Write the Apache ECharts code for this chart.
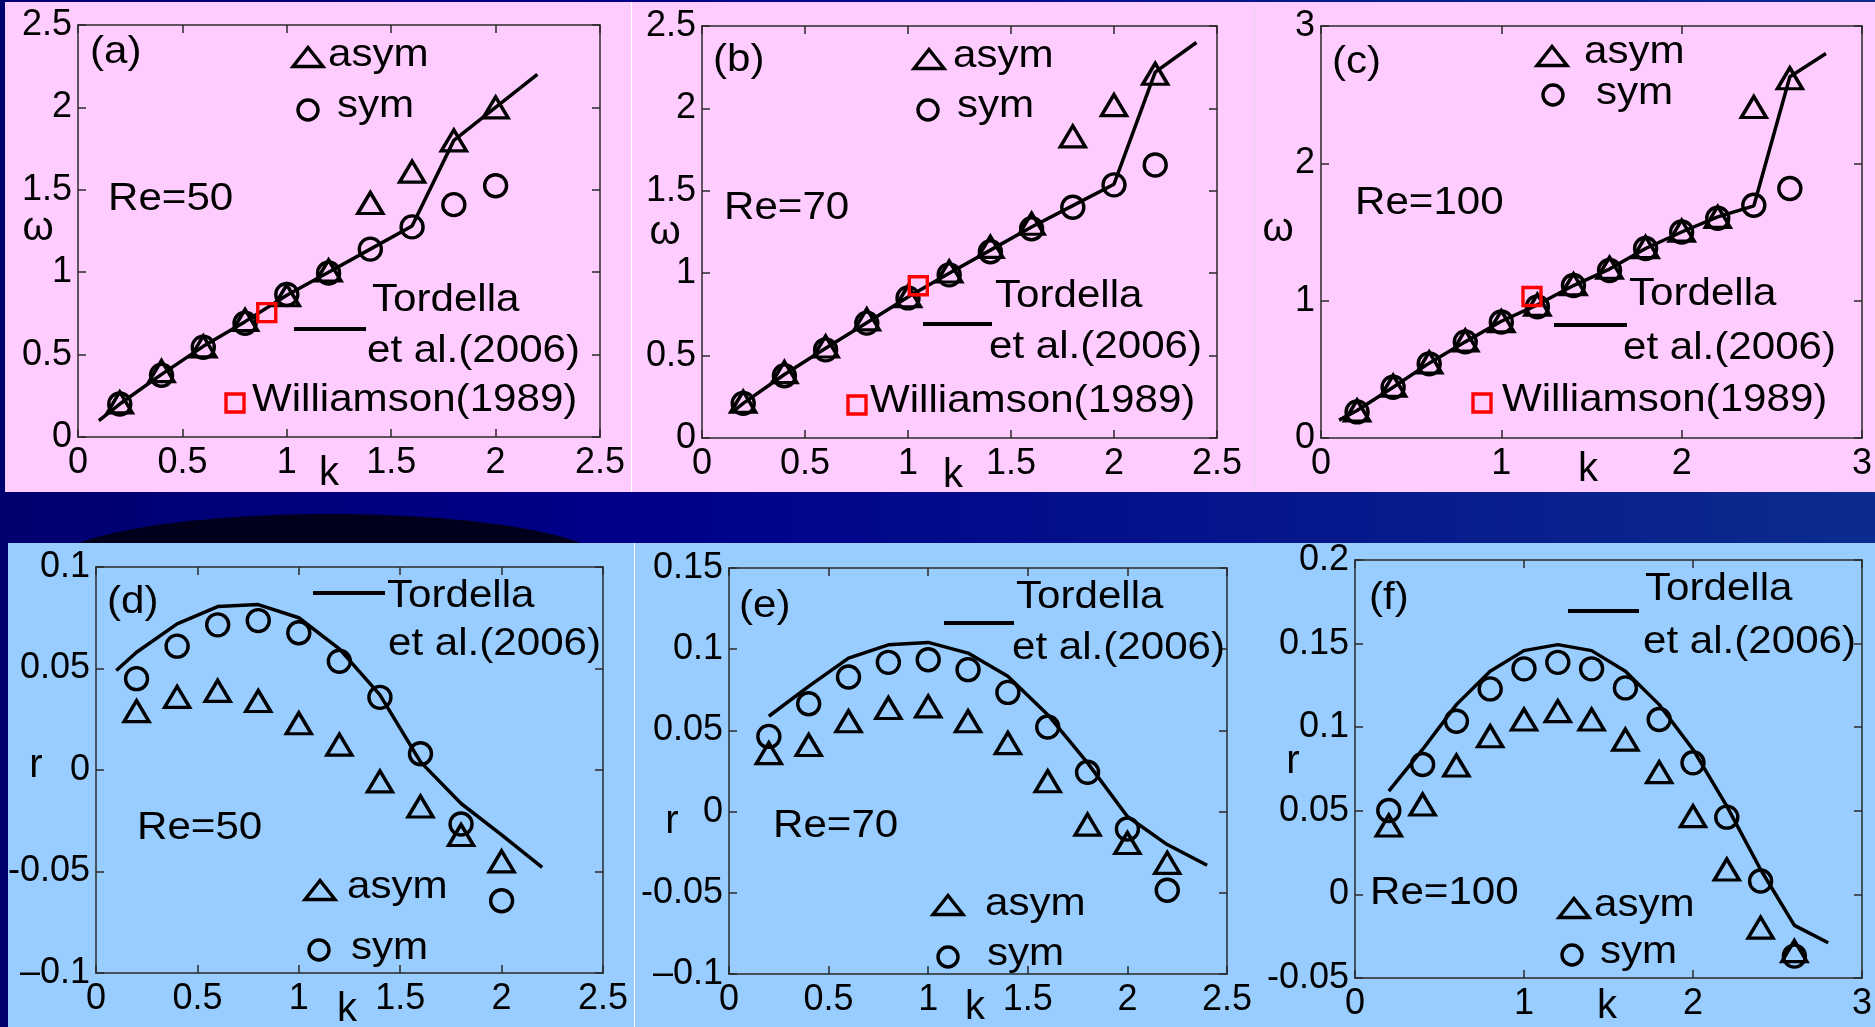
<!DOCTYPE html>
<html>
<head>
<meta charset="utf-8">
<title>omega and r versus k, Re=50, 70, 100</title>
<script src="https://cdn.jsdelivr.net/npm/echarts@6/dist/echarts.min.js"></script>
<style>
  html, body { margin: 0; padding: 0; background: #00007a; }
  #chart { width: 1875px; height: 1027px; }
</style>
</head>
<body>
<div id="chart"></div>
<script>
// (a) Re=50, frequency
const kA = [0.2, 0.4, 0.6, 0.8, 1.0, 1.2, 1.4, 1.6, 1.8, 2.0];
const asymA = [0.21, 0.40, 0.55, 0.71, 0.86, 1.01, 1.42, 1.61, 1.80, 2.00];
const symA = [0.20, 0.375, 0.545, 0.69, 0.865, 0.995, 1.14, 1.275, 1.41, 1.525];
const tordKA = [0.1, 0.2, 0.4, 0.6, 0.8, 1.0, 1.2, 1.4, 1.6, 1.8, 2.0, 2.2];
const tordA = [0.10, 0.20, 0.38, 0.55, 0.70, 0.86, 1.0, 1.14, 1.28, 1.80, 2.0, 2.2];
const willA = [0.904, 0.755];

// (b) Re=70, frequency
const kB = [0.2, 0.4, 0.6, 0.8, 1.0, 1.2, 1.4, 1.6, 1.8, 2.0, 2.2];
const asymB = [0.22, 0.40, 0.555, 0.72, 0.86, 1.01, 1.16, 1.30, 1.83, 2.02, 2.21];
const symB = [0.21, 0.378, 0.535, 0.697, 0.85, 0.99, 1.13, 1.27, 1.40, 1.536, 1.657];
const tordKB = [0.15, 0.2, 0.4, 0.6, 0.8, 1.0, 1.2, 1.4, 1.6, 1.8, 2.0, 2.2, 2.4];
const tordB = [0.16, 0.21, 0.385, 0.545, 0.70, 0.855, 1.0, 1.14, 1.28, 1.41, 1.54, 2.22, 2.40];
const willB = [1.05, 0.924];

// (c) Re=100, frequency
const kC = [0.2, 0.4, 0.6, 0.8, 1.0, 1.2, 1.4, 1.6, 1.8, 2.0, 2.2, 2.4, 2.6];
const asymC = [0.20, 0.38, 0.55, 0.71, 0.85, 0.97, 1.12, 1.24, 1.39, 1.51, 1.61, 2.41, 2.62];
const symC = [0.19, 0.37, 0.54, 0.70, 0.845, 0.955, 1.11, 1.22, 1.38, 1.50, 1.60, 1.695, 1.817];
const tordKC = [0.1, 0.2, 0.4, 0.6, 0.8, 1.0, 1.2, 1.4, 1.6, 1.8, 2.0, 2.2, 2.4, 2.6, 2.8];
const tordC = [0.13, 0.20, 0.37, 0.545, 0.70, 0.85, 0.97, 1.11, 1.23, 1.38, 1.50, 1.61, 1.69, 2.63, 2.80];
const willC = [1.17, 1.03];

// (d) Re=50, growth rate
const kD = [0.2, 0.4, 0.6, 0.8, 1.0, 1.2, 1.4, 1.6, 1.8, 2.0];
const asymD = [0.029, 0.036, 0.039, 0.034, 0.023, 0.0125, -0.0056, -0.018, -0.032, -0.045];
const symD = [0.045, 0.061, 0.0715, 0.0736, 0.0676, 0.0536, 0.0358, 0.008, -0.0266, -0.0644];
const tordKD = [0.1, 0.2, 0.4, 0.6, 0.8, 1.0, 1.2, 1.4, 1.6, 1.8, 2.0, 2.2];
const tordD = [0.049, 0.058, 0.072, 0.0805, 0.0815, 0.075, 0.0597, 0.037, 0.004, -0.0165, -0.032, -0.048];

// (e) Re=70, growth rate
const kE = [0.2, 0.4, 0.6, 0.8, 1.0, 1.2, 1.4, 1.6, 1.8, 2.0, 2.2];
const asymE = [0.036, 0.041, 0.0556, 0.0638, 0.0648, 0.0556, 0.0422, 0.0187, -0.008, -0.0193, -0.0316];
const symE = [0.0463, 0.0664, 0.0829, 0.0919, 0.0935, 0.0874, 0.0734, 0.0521, 0.0242, -0.0107, -0.0484];
const tordKE = [0.2, 0.4, 0.6, 0.8, 1.0, 1.2, 1.4, 1.6, 1.8, 2.0, 2.2, 2.4];
const tordE = [0.0587, 0.0771, 0.0945, 0.1027, 0.1042, 0.0976, 0.0833, 0.0597, 0.030, -0.003, -0.0203, -0.033];

// (f) Re=100, growth rate
const kF = [0.2, 0.4, 0.6, 0.8, 1.0, 1.2, 1.4, 1.6, 1.8, 2.0, 2.2, 2.4, 2.6];
const asymF = [0.0412, 0.0538, 0.0771, 0.0946, 0.1046, 0.1096, 0.1046, 0.0926, 0.0731, 0.0468, 0.0149, -0.0199, -0.0339];
const symF = [0.0502, 0.0777, 0.1036, 0.1229, 0.1349, 0.1388, 0.1349, 0.1235, 0.1046, 0.0787, 0.0462, 0.008, -0.0369];
const tordKF = [0.2, 0.4, 0.6, 0.8, 1.0, 1.2, 1.4, 1.6, 1.8, 2.0, 2.2, 2.4, 2.6, 2.8];
const tordF = [0.0618, 0.0867, 0.1135, 0.1335, 0.1458, 0.1494, 0.1458, 0.1335, 0.1135, 0.0867, 0.0528, 0.0149, -0.0185, -0.0289];

// axis ranges [min, max, step]
const xRanges = [[0, 2.5, 0.5], [0, 2.5, 0.5], [0, 3, 1], [0, 2.5, 0.5], [0, 2.5, 0.5], [0, 3, 1]];
const yRanges = [[0, 2.5, 0.5], [0, 2.5, 0.5], [0, 3, 1], [-0.1, 0.1, 0.05], [-0.1, 0.15, 0.05], [-0.05, 0.2, 0.05]];

const FONT = 'Liberation Sans, Arial, Helvetica, sans-serif';
const PINK = '#ffccff';
const BLUE = '#99ccff';

const grids = [
  { left: 78, top: 25, width: 522, height: 412 },
  { left: 702, top: 26, width: 515, height: 412 },
  { left: 1321, top: 26, width: 541, height: 412 },
  { left: 96, top: 567, width: 507, height: 406 },
  { left: 729, top: 568, width: 498, height: 406 },
  { left: 1355, top: 560, width: 507, height: 418 }
];

function pairs(xs, ys) {
  return xs.map((x, i) => [x, ys[i]]);
}

function fmt(v) {
  const r = +v.toFixed(3);
  if (r === -0.1) return '\u20130.1';
  return String(r);
}

const lineCol = { color: '#2a2a2a', width: 1.5 };

function axis(kind, i, range, pos, labels) {
  return {
    type: 'value',
    gridIndex: i,
    position: pos,
    min: range[0],
    max: range[1],
    interval: range[2],
    axisLine: { show: true, onZero: false, lineStyle: lineCol },
    axisTick: { show: true, inside: true, length: 8, lineStyle: lineCol },
    splitLine: { show: false },
    axisLabel: {
      show: labels,
      color: '#000',
      fontFamily: FONT,
      fontSize: 36,
      margin: kind === 'x' ? 8 : 6,
      showMinLabel: true,
      showMaxLabel: true,
      formatter: fmt
    }
  };
}

const xAxes = [];
const yAxes = [];
grids.forEach((g, i) => {
  xAxes.push(axis('x', i, xRanges[i], 'bottom', true));
  xAxes.push(axis('x', i, xRanges[i], 'top', false));
  yAxes.push(axis('y', i, yRanges[i], 'left', true));
  yAxes.push(axis('y', i, yRanges[i], 'right', false));
});

const hollow = (c) => ({ color: 'rgba(0,0,0,0)', borderColor: c, borderWidth: 3.4, opacity: 1 });

function panelSeries(i, k, asym, sym, tk, tord, will) {
  const base = { xAxisIndex: 2 * i, yAxisIndex: 2 * i, silent: true };
  const s = [
    Object.assign({
      type: 'line', name: 'Tordella et al.(2006)', data: pairs(tk, tord),
      symbol: 'none', lineStyle: { color: '#000', width: 3.5 }, z: 3
    }, base),
    Object.assign({
      type: 'scatter', name: 'asym', data: pairs(k, asym),
      symbol: 'triangle', symbolSize: [25, 21], itemStyle: hollow('#000'), z: 4
    }, base),
    Object.assign({
      type: 'scatter', name: 'sym', data: pairs(k, sym),
      symbol: 'circle', symbolSize: 22, itemStyle: hollow('#000'), z: 4
    }, base)
  ];
  if (will) {
    s.push(Object.assign({
      type: 'scatter', name: 'Williamson(1989)', data: [will],
      symbol: 'rect', symbolSize: 18, itemStyle: hollow('#ff0000'), z: 5
    }, base));
  }
  return s;
}

const series = [].concat(
  panelSeries(0, kA, asymA, symA, tordKA, tordA, willA),
  panelSeries(1, kB, asymB, symB, tordKB, tordB, willB),
  panelSeries(2, kC, asymC, symC, tordKC, tordC, willC),
  panelSeries(3, kD, asymD, symD, tordKD, tordD, null),
  panelSeries(4, kE, asymE, symE, tordKE, tordE, null),
  panelSeries(5, kF, asymF, symF, tordKF, tordF, null)
);

// decoration helpers
const T = (x, y, s) => ({
  type: 'text', x: x, y: y, scaleX: 1.08, z: 50, silent: true,
  style: { text: s, fill: '#000', fontFamily: FONT, fontSize: 39, align: 'left', verticalAlign: 'middle' }
});
const N = (x, y, s) => ({
  type: 'text', x: x, y: y, z: 50, silent: true,
  style: { text: s, fill: '#000', fontFamily: FONT, fontSize: 40, align: 'center', verticalAlign: 'middle' }
});
const TRI = (cx, cy) => ({
  type: 'polygon', z: 50, silent: true,
  shape: { points: [[cx, cy - 9.5], [cx - 15, cy + 9.5], [cx + 15, cy + 9.5]] },
  style: { fill: 'none', stroke: '#000', lineWidth: 3.4 }
});
const CIR = (cx, cy) => ({
  type: 'circle', z: 50, silent: true,
  shape: { cx: cx, cy: cy, r: 10 },
  style: { fill: 'none', stroke: '#000', lineWidth: 3.4 }
});
const SEG = (x1, x2, y) => ({
  type: 'line', z: 50, silent: true,
  shape: { x1: x1, y1: y, x2: x2, y2: y },
  style: { stroke: '#000', lineWidth: 4 }
});
const SQ = (cx, cy) => ({
  type: 'rect', z: 50, silent: true,
  shape: { x: cx - 9, y: cy - 9, width: 18, height: 18 },
  style: { fill: 'none', stroke: '#ff0000', lineWidth: 3.4 }
});
const BOX = (x, y, w, h, fill) => ({
  type: 'rect', z: -90, silent: true,
  shape: { x: x, y: y, width: w, height: h }, style: { fill: fill }
});

const graphics = [
  {
    type: 'rect', z: -100, silent: true,
    shape: { x: 0, y: 0, width: 1875, height: 1027 },
    style: {
      fill: {
        type: 'linear', x: 0, y: 0, x2: 1, y2: 0,
        colorStops: [
          { offset: 0, color: '#000070' },
          { offset: 0.35, color: '#00008a' },
          { offset: 1, color: '#0b2c8e' }
        ]
      }
    }
  },
  { type: 'ellipse', z: -95, silent: true, shape: { cx: 330, cy: 566, rx: 280, ry: 52 }, style: { fill: '#00001c' } },
  BOX(5, 2, 626, 490, PINK),
  BOX(632, 2, 622, 490, PINK),
  BOX(1255, 2, 620, 490, PINK),
  BOX(631, 2, 1, 490, '#ffffff'),
  BOX(1254, 2, 1, 490, '#ead0ea'),
  BOX(8, 543, 1867, 484, BLUE),
  BOX(634, 543, 1, 484, '#ffffff'),

  // (a)
  T(90, 52, '(a)'), TRI(308, 57), T(328, 55, 'asym'), CIR(308, 110), T(337, 106, 'sym'),
  T(108, 199, 'Re=50'), T(372, 300, 'Tordella'), SEG(294, 366, 329), T(367, 351, 'et al.(2006)'),
  SQ(235, 403), T(252, 400, 'Williamson(1989)'), N(38, 229, '\u03c9'), N(329, 474, 'k'),

  // (b)
  T(713, 60, '(b)'), TRI(929, 59), T(953, 56, 'asym'), CIR(928, 110), T(957, 106, 'sym'),
  T(724, 208, 'Re=70'), T(995, 296, 'Tordella'), SEG(923, 992, 324), T(989, 347, 'et al.(2006)'),
  SQ(857, 405), T(870, 401, 'Williamson(1989)'), N(665, 233, '\u03c9'), N(953, 476, 'k'),

  // (c)
  T(1332, 62, '(c)'), TRI(1552, 56), T(1584, 52, 'asym'), CIR(1553, 95), T(1596, 93, 'sym'),
  T(1355, 203, 'Re=100'), T(1629, 294, 'Tordella'), SEG(1554, 1627, 325), T(1623, 348, 'et al.(2006)'),
  SQ(1482, 403), T(1502, 400, 'Williamson(1989)'), N(1278, 230, '\u03c9'), N(1588, 470, 'k'),

  // (d)
  T(107, 602, '(d)'), SEG(313, 385, 593), T(387, 596, 'Tordella'), T(388, 644, 'et al.(2006)'),
  T(137, 828, 'Re=50'), TRI(320, 890), T(347, 887, 'asym'), CIR(319, 950), T(351, 948, 'sym'),
  N(36, 766, 'r'), N(347, 1010, 'k'),

  // (e)
  T(739, 606, '(e)'), SEG(944, 1014, 623), T(1016, 597, 'Tordella'), T(1012, 648, 'et al.(2006)'),
  T(773, 826, 'Re=70'), TRI(948, 905), T(985, 904, 'asym'), CIR(948, 957), T(987, 954, 'sym'),
  N(672, 822, 'r'), N(975, 1008, 'k'),

  // (f)
  T(1369, 598, '(f)'), SEG(1568, 1639, 611), T(1645, 589, 'Tordella'), T(1643, 642, 'et al.(2006)'),
  T(1370, 893, 'Re=100'), TRI(1574, 908), T(1594, 905, 'asym'), CIR(1572, 955), T(1600, 952, 'sym'),
  N(1293, 762, 'r'), N(1607, 1007, 'k')
];

const chart = echarts.init(document.getElementById('chart'));
chart.setOption({
  animation: false,
  backgroundColor: '#00007a',
  grid: grids,
  xAxis: xAxes,
  yAxis: yAxes,
  series: series,
  graphic: { elements: graphics }
});
</script>
</body>
</html>
